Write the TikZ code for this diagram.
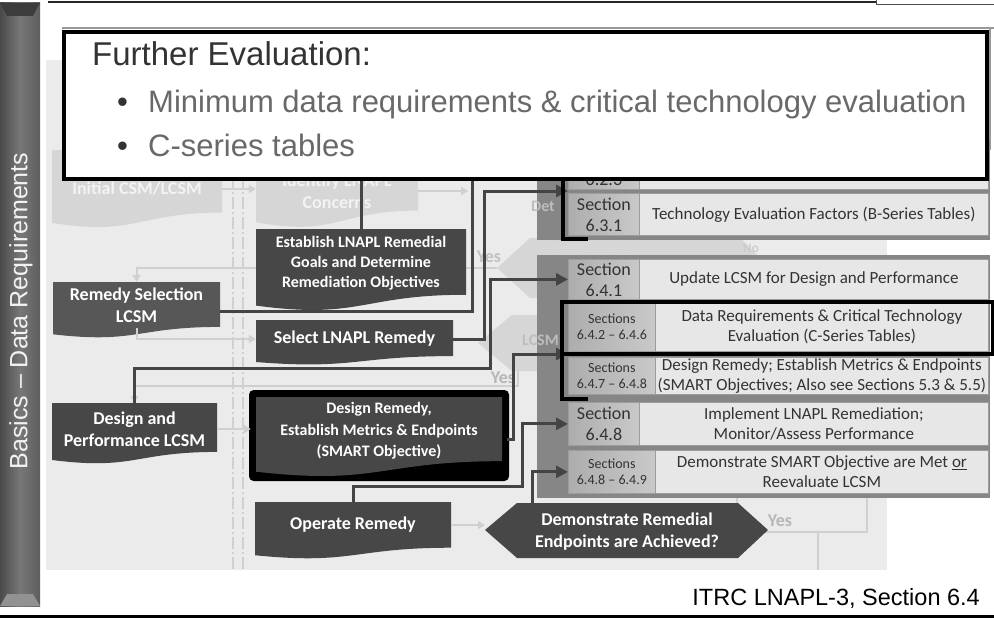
\documentclass[tikz,border=0pt]{standalone}
\usepackage{fontspec}
\setmainfont{Liberation Sans}
\newfontfamily\carl{Carlito}
\usetikzlibrary{arrows.meta}
\definecolor{cBg}{HTML}{EBEBEB}
\definecolor{cDk}{HTML}{474747}
\definecolor{cDkB}{HTML}{575757}
\definecolor{cConn}{HTML}{444444}
\definecolor{cFade}{HTML}{D6D6D6}
\definecolor{cFadeLn}{HTML}{D0D0D0}
\definecolor{cFadeTx}{HTML}{F3F3F3}
\definecolor{cPnl}{HTML}{868686}
\definecolor{cPnlTx}{HTML}{BDBDBD}
\definecolor{cSecL}{HTML}{ADADAD}
\definecolor{cSecR}{HTML}{C9C9C9}
\definecolor{cDesc}{HTML}{E7E7E7}
\definecolor{cCellB}{HTML}{9C9C9C}
\definecolor{cTxt}{HTML}{333333}
\definecolor{cBul}{HTML}{696969}
\definecolor{cSb1}{HTML}{4A4A4A}
\definecolor{cSb2}{HTML}{5E5E5E}
\definecolor{cSb3}{HTML}{777777}
\definecolor{cSbTop}{HTML}{3C3C3C}
\newcommand\docpath[5]{%
  \pgfmathsetmacro\dbA{#3+0.802*#5}%
  \pgfmathsetmacro\dbB{#3+1.107*#5}%
  \pgfmathsetmacro\dbC{#3+0.934*#5}%
  \pgfmathsetmacro\dbM{(#2+#4)/2}%
  \fill[#1] (#2,#3) -- (#4,#3) -- (#4,\dbA) .. controls (\dbM,\dbA) and (\dbM,\dbB) .. (#2,\dbC) -- cycle;}
\begin{document}
\begin{tikzpicture}[x=1pt,y=-1pt,
  conn/.style={draw=cConn, line width=3pt},
  arr/.style={-{Triangle[length=12pt,width=12pt]}},
  fadearr/.style={draw=cFadeLn, line width=2pt, -{Triangle[length=7pt,width=8pt]}},
  fadeln/.style={draw=cFadeLn, line width=1.6pt},
  dashdot/.style={draw=cFadeLn, line width=1.2pt, dash pattern=on 12pt off 3pt on 2pt off 3pt},
  boxtxt/.style={text=white, font=\carl\bfseries\fontsize{18}{22}\selectfont, align=center, inner sep=0pt},
  fadetxt/.style={text=cFadeTx, font=\carl\bfseries\fontsize{18}{22}\selectfont, align=center, inner sep=0pt},
  pnltxt/.style={text=cPnlTx, font=\carl\bfseries\fontsize{16}{20}\selectfont, inner sep=0pt, anchor=base west},
  seccell/.style={draw=cCellB, line width=0.8pt, left color=cSecL, right color=cSecR, text=cTxt, align=center, inner sep=0pt, anchor=north west, font=\carl\fontsize{18}{21}\selectfont},
  secsmall/.style={seccell, font=\carl\fontsize{14}{16.5}\selectfont},
  desccell/.style={draw=cCellB, line width=0.8pt, fill=cDesc, text=cTxt, align=center, inner sep=0pt, anchor=north west, font=\carl\fontsize{17}{20}\selectfont},
  hilite/.style={draw=black, line width=3.5pt},
]
\useasboundingbox (0,0) rectangle (994,618);
\fill[white] (0,0) rectangle (994,618);
% sidebar
\shade[left color=cSb1, right color=cSb2, middle color=cSb3] (0,3) rectangle (40,606);
\fill[cSbTop] (0,3) -- (40,3) -- (33,16) -- (7,16) -- cycle;
\fill[cSb3!80!white] (7,594) -- (33,594) -- (40,606) -- (0,606) -- cycle;
\node[rotate=90, text=white!95!black, font=\fontsize{25}{30}\selectfont, inner sep=0pt] (side) at (21,311) {Basics – Data Requirements};
% frame lines
\draw[line width=2pt, black!85] (48,2) -- (876,2);
\draw[line width=1pt, black!70] (876,0) -- (876,5) -- (994,5);
\draw[line width=3pt, black] (0,616.5) -- (994,616.5);
% background area
\fill[cBg] (46,60) rectangle (887,570);
\draw[line width=1.5pt, black!40] (62,28) -- (994,28);
\draw[line width=1.5pt, black!40] (990,28) -- (990,150);
% faded layer
\docpath{cFade}{52}{150}{222}{78}
\node[fadetxt, minimum width=170pt] (init) at (137,189) {Initial CSM/LCSM};
\docpath{cFade}{256}{140}{418}{88}
\node[fadetxt, minimum width=162pt] (ident) at (337,191) {Identify LNAPL\\Concerns};
\draw[dashdot] (233,177) -- (233,570);
\draw[dashdot] (243,177) -- (243,570);
\draw[fadearr] (init.east) -- (init.east -| ident.west);
\draw[fadearr] (ident.east) -- ++(50,0);
\fill[cFade] (497,268) -- (530,238) -- (740,238) -- (770,268) -- (740,298) -- (530,298) -- cycle;
\fill[cFade] (478,343) -- (512,315) -- (700,315) -- (730,343) -- (700,371) -- (512,371) -- cycle;
\node[fadetxt, text=cFade!70!black!60] (yes1) at (489,257) {Yes};
\draw[fadeln] (466,268) -- (497,268);
\draw[fadeln] (737,493) rectangle (867,532);
\draw[fadeln] (818,532) -- (818,570);
\node[fadetxt, text=cFade!85!black] (yes3) at (780,521) {Yes};
\coordinate (fy) at (518,370);
\node[fadetxt, text=cFade!85!black] (yes2) at (503,378) {Yes};
% panels
\fill[cPnl] (537,140) rectangle (990,240);
\fill[cPnl] (537,255) rectangle (990,498);
\node[pnltxt, text=white!85!black, font=\carl\bfseries\fontsize{13}{15}\selectfont] (verify) at (547,252) {Verify Concerns};
\node[pnltxt, text=white!80!black, font=\carl\bfseries\fontsize{13}{15}\selectfont] (no1) at (743,252) {No};
\node[pnltxt] (lcsmf) at (522,345) {LCSM};
\node[pnltxt] (detf) at (531,211) {Det};
% table
\node[seccell, minimum width=71pt, minimum height=41pt] (r0s) at (568,148) {Section\\6.2.3};
\node[desccell, minimum width=349pt, minimum height=41pt] (r0d) at (639,148) {};
\node[seccell, minimum width=71pt, minimum height=42pt] (r1s) at (568,193) {Section\\6.3.1};
\node[desccell, minimum width=349pt, minimum height=42pt] (r1d) at (639,193) {Technology Evaluation Factors (B-Series Tables)};
\node[seccell, minimum width=71pt, minimum height=40pt] (r2s) at (568,259) {Section\\6.4.1};
\node[desccell, minimum width=349pt, minimum height=40pt] (r2d) at (639,259) {Update LCSM for Design and Performance};
\node[secsmall, minimum width=87pt, minimum height=49pt] (r3s) at (568,302) {Sections\\6.4.2 – 6.4.6};
\node[desccell, minimum width=333pt, minimum height=49pt] (r3d) at (655,302) {Data Requirements \& Critical Technology\\Evaluation (C-Series Tables)};
\node[secsmall, minimum width=87pt, minimum height=37pt] (r4s) at (568,357) {Sections\\6.4.7 – 6.4.8};
\node[desccell, minimum width=333pt, minimum height=37pt] (r4d) at (655,357) {Design Remedy; Establish Metrics \& Endpoints\\(SMART Objectives; Also see Sections 5.3 \& 5.5)};
\node[seccell, minimum width=71pt, minimum height=43pt] (r5s) at (568,402) {Section\\6.4.8};
\node[desccell, minimum width=349pt, minimum height=43pt] (r5d) at (639,402) {Implement LNAPL Remediation;\\Monitor/Assess Performance};
\node[secsmall, minimum width=87pt, minimum height=43pt] (r6s) at (568,450) {Sections\\6.4.8 – 6.4.9};
\node[desccell, minimum width=333pt, minimum height=43pt] (r6d) at (655,450) {Demonstrate SMART Objective are Met \underline{or}\\Reevaluate LCSM};
\coordinate (t01) at (568,191);
\coordinate (t34) at (568,354);
% main boxes
\docpath{cDk}{256}{229}{466}{82}
\node[boxtxt, font=\carl\bfseries\fontsize{16}{20}\selectfont, minimum width=210pt, minimum height=68pt] (estab) at (361,263) {Establish LNAPL Remedial\\Goals and Determine\\Remediation Objectives};
\docpath{cDk}{256}{320}{453}{45}
\node[boxtxt, minimum width=197pt, minimum height=40pt] (sel) at (354.5,339) {Select LNAPL Remedy};
\docpath{cDkB}{53}{282}{220}{56}
\node[boxtxt, minimum width=167pt, minimum height=46pt] (rsel) at (136.5,305) {Remedy Selection\\LCSM};
\docpath{cDk}{52}{403}{217}{61}
\node[boxtxt, minimum width=165pt, minimum height=52pt] (dpl) at (134.5,429) {Design and\\Performance LCSM};
\draw[line width=4pt, fill=black, rounded corners=3pt] (251,392) rectangle (507,479);
\docpath{cDk}{256}{397}{502}{80}
\node[boxtxt, font=\carl\bfseries\fontsize{16}{21.5}\selectfont, minimum width=256pt, minimum height=78pt] (dr) at (379,431) {Design Remedy,\\Establish Metrics \& Endpoints\\(SMART Objective)};
\docpath{cDk}{255}{502}{451}{57}
\node[boxtxt, minimum width=196pt, minimum height=46pt] (op) at (353,525) {Operate Remedy};
\fill[cDk] (485,530) -- (517,503) -- (738,503) -- (768,530) -- (738,558) -- (517,558) -- cycle;
\node[boxtxt] (hex) at (627,532) {Demonstrate Remedial\\Endpoints are Achieved?};
\coordinate (hexL) at (485,530);
\coordinate (k7) at (532,503);
% faded connectors between main boxes
\draw[fadearr] ([yshift=-5pt]estab.west) -| (rsel.north);
\draw[fadearr] (rsel.south) |- (sel.west);
\draw[fadearr] (fy) |- ([yshift=17pt]dpl.north) -- (dpl.north);
\draw[fadearr] (dpl.east) -- (dpl.east -| dr.west);
\draw[fadearr] (op.east) -- (op.east -| hexL);
% connectors
\coordinate (topA) at (363,177);
\coordinate (topB) at (472,177);
\coordinate (k3) at (484,191);
\coordinate (k4) at (490,368);
\coordinate (k5) at (513,354);
\coordinate (k6) at (522,486);
\draw[conn] (estab.north) -- (estab.north |- topA);
\draw[conn] ([yshift=-6pt]rsel.east) -| (topB);
\draw[conn, arr] (sel.east) -| (k3) -- (t01);
\draw[conn, arr] (dpl.north) |- (k4) |- (r2s.west);
\draw[conn, arr] ([yshift=-8pt]dr.east) -| (k5) -- (t34);
\draw[conn, arr] (op.north) |- (k6) |- (r5s.west);
\draw[conn, arr] (k7) |- (r6s.west);
% table highlights
\draw[hilite] (563,175) -- (563,239) -- (588,239);
\draw[draw=black, line width=4pt] (562,302) rectangle (993,354);
\draw[hilite] (562,354) -- (562,399) -- (588,399);
% callout
\node[draw=black, line width=4pt, fill=white, minimum width=923pt, minimum height=147pt, anchor=north west, inner sep=0pt] (callout) at (62,30) {};
\node[anchor=base west, text=cTxt, font=\fontsize{33}{38}\selectfont, inner sep=0pt] (title) at (92,66) {Further Evaluation:};
\node[anchor=base west, text=cTxt, font=\fontsize{31}{36}\selectfont, inner sep=0pt] (d1) at (117,112) {•};
\node[anchor=base west, text=cBul, font=\fontsize{31}{36}\selectfont, inner sep=0pt] (b1) at (148,112) {Minimum data requirements \& critical technology evaluation};
\node[anchor=base west, text=cTxt, font=\fontsize{31}{36}\selectfont, inner sep=0pt] (d2) at (117,157) {•};
\node[anchor=base west, text=cBul, font=\fontsize{31}{36}\selectfont, inner sep=0pt] (b2) at (148,157) {C-series tables};
% caption
\node[anchor=base east, text=black, font=\fontsize{23.5}{28}\selectfont, inner sep=0pt] (cap) at (980,605) {ITRC LNAPL-3, Section 6.4};
\end{tikzpicture}
\end{document}
